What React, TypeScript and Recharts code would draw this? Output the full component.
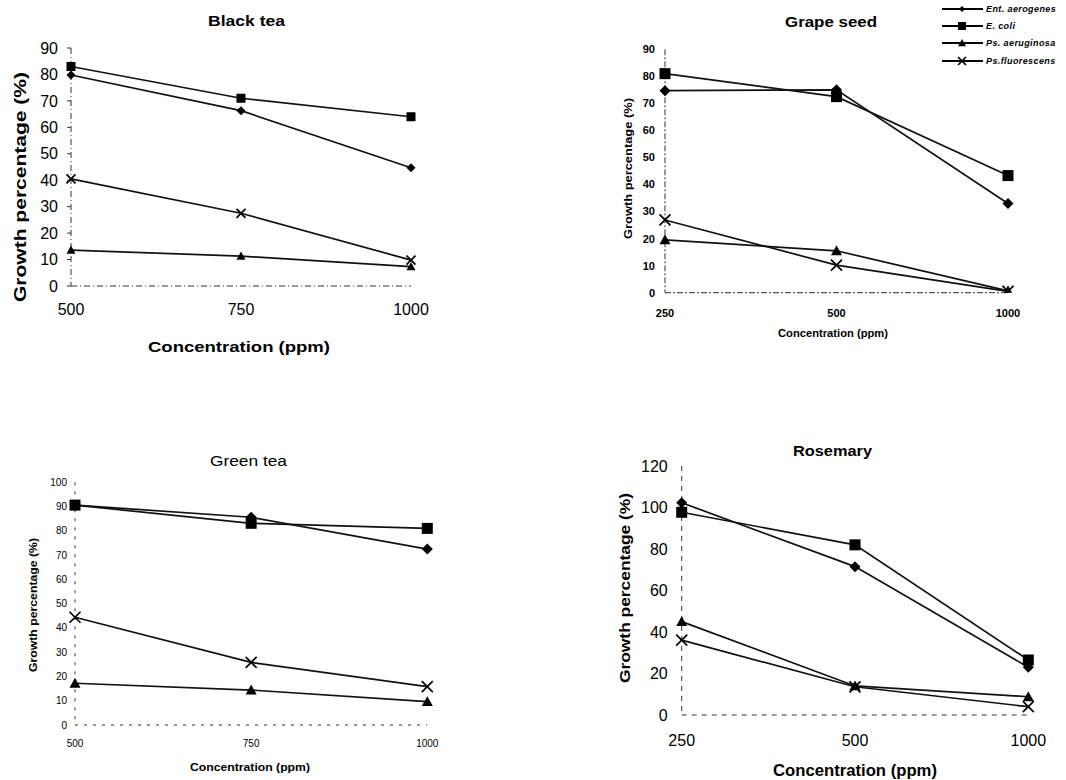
import React from 'react';
import { LineChart, Line, XAxis, YAxis, Legend } from 'recharts';

// ---------- data ----------
const SERIES_NAMES = ['Ent. aerogenes', 'E. coli', 'Ps. aeruginosa', 'Ps.fluorescens'];
const SERIES_KEYS = ['ent', 'coli', 'aer', 'flu'];
const SERIES_SHAPES = ['diamond', 'square', 'triangle', 'cross'];

const blackTeaConc = ['500', '750', '1000'];
const blackTeaEnt = [79.8, 66.3, 44.7];
const blackTeaColi = [83, 71, 64];
const blackTeaAer = [13.6, 11.3, 7.3];
const blackTeaFlu = [40.5, 27.5, 9.8];
const blackTeaTicks = [0, 10, 20, 30, 40, 50, 60, 70, 80, 90];

const grapeConc = ['250', '500', '1000'];
const grapeEnt = [74.7, 75, 33];
const grapeColi = [81, 72.5, 43.3];
const grapeAer = [19.5, 15.5, 0.7];
const grapeFlu = [26.9, 10.2, 0.5];
const grapeTicks = [0, 10, 20, 30, 40, 50, 60, 70, 80, 90];

const greenTeaConc = ['500', '750', '1000'];
const greenTeaEnt = [90.6, 85.6, 72.5];
const greenTeaColi = [90.6, 83.1, 81];
const greenTeaAer = [17.2, 14.4, 9.6];
const greenTeaFlu = [44.4, 25.8, 15.8];
const greenTeaTicks = [0, 10, 20, 30, 40, 50, 60, 70, 80, 90, 100];

const rosemaryConc = ['250', '500', '1000'];
const rosemaryEnt = [102.3, 71.5, 23];
const rosemaryColi = [97.7, 82, 26.5];
const rosemaryAer = [45, 14, 8.8];
const rosemaryFlu = [36.1, 13.6, 4];
const rosemaryTicks = [0, 20, 40, 60, 80, 100, 120];

const Y_LABEL = 'Growth percentage (%)';
const X_LABEL = 'Concentration (ppm)';

function buildRows(conc: string[], ent: number[], coli: number[], aer: number[], flu: number[]) {
  return conc.map((c, i) => ({ conc: c, ent: ent[i], coli: coli[i], aer: aer[i], flu: flu[i] }));
}

const FONT = '"Liberation Sans", Arial, sans-serif';
const W = 1066;
const H = 780;

// ---------- markers ----------
function Marker({ shape, cx, cy, size }: { shape: string; cx: number; cy: number; size: number }) {
  const s = size / 2;
  if (shape === 'diamond') {
    return <polygon points={`${cx},${cy - s} ${cx + s},${cy} ${cx},${cy + s} ${cx - s},${cy}`} fill="#000" />;
  }
  if (shape === 'square') {
    return <rect x={cx - s} y={cy - s} width={size} height={size} fill="#000" />;
  }
  if (shape === 'triangle') {
    return <polygon points={`${cx},${cy - s} ${cx + s},${cy + s * 0.8} ${cx - s},${cy + s * 0.8}`} fill="#000" />;
  }
  return (
    <g stroke="#000" strokeWidth={1.7}>
      <line x1={cx - s} y1={cy - s} x2={cx + s} y2={cy + s} />
      <line x1={cx - s} y1={cy + s} x2={cx + s} y2={cy - s} />
    </g>
  );
}

function makeDot(shape: string, size: number) {
  return (props: any) => {
    const { cx, cy, index } = props;
    if (cx == null || cy == null) return <g key={`d-${shape}-${index}`} />;
    return (
      <g key={`d-${shape}-${index}`}>
        <Marker shape={shape} cx={cx} cy={cy} size={size} />
      </g>
    );
  };
}

// ---------- legend ----------
function LegendContent() {
  return (
    <div style={{ fontFamily: FONT, fontSize: 9, fontStyle: 'italic', fontWeight: 700, color: '#000' }}>
      {SERIES_NAMES.map((name, i) => (
        <div key={name} style={{ display: 'flex', alignItems: 'center', height: 17.4, whiteSpace: 'nowrap' }}>
          <svg width={41} height={10} style={{ display: 'block' }}>
            <line x1={0} y1={5} x2={41} y2={5} stroke="#000" strokeWidth={2} />
            <Marker shape={SERIES_SHAPES[i]} cx={20} cy={5} size={i === 0 ? 6 : 8} />
          </svg>
          <span style={{ marginLeft: 3, letterSpacing: 0.4 }}>{name}</span>
        </div>
      ))}
    </div>
  );
}

// ---------- panel ----------
type PanelProps = {
  rows: any[];
  plot: { x1: number; y1: number; x2: number; y2: number };
  yDomain: [number, number];
  yTicks: number[];
  tickFont: number;
  tickWeight: number | string;
  yTickMargin: number;
  xTickMargin: number;
  markerSize: number;
  yTickLine: boolean;
  axisDash: string;
  legend?: boolean;
};

function Panel(p: PanelProps) {
  const yAxisWidth = 60;
  const xAxisHeight = 40;
  const margin = {
    left: p.plot.x1 - yAxisWidth,
    top: p.plot.y1,
    right: W - p.plot.x2,
    bottom: H - p.plot.y2 - xAxisHeight,
  };
  const tickStyle = { fontFamily: FONT, fontSize: p.tickFont, fontWeight: p.tickWeight as any, fill: '#000' };
  return (
    <div style={{ position: 'absolute', left: 0, top: 0, width: W, height: H }}>
      <LineChart width={W} height={H} data={p.rows} margin={margin}>
        <XAxis
          dataKey="conc"
          type="category"
          scale="point"
          padding={{ left: 0, right: 0 }}
          height={xAxisHeight}
          axisLine={{ stroke: '#333', strokeDasharray: p.axisDash }}
          tickLine={false}
          tickSize={4}
          tickMargin={p.xTickMargin}
          tick={tickStyle}
          interval={0}
        />
        <YAxis
          type="number"
          width={yAxisWidth}
          domain={p.yDomain}
          ticks={p.yTicks}
          allowDataOverflow
          axisLine={{ stroke: '#333', strokeDasharray: p.axisDash }}
          tickLine={p.yTickLine ? { stroke: '#333' } : false}
          tickSize={4}
          tickMargin={p.yTickMargin}
          tick={tickStyle}
          interval={0}
        />
        {SERIES_KEYS.map((k, i) => (
          <Line
            key={k}
            dataKey={k}
            name={SERIES_NAMES[i]}
            type="linear"
            stroke="#111"
            strokeWidth={1.7}
            dot={makeDot(SERIES_SHAPES[i], p.markerSize)}
            activeDot={false}
            isAnimationActive={false}
          />
        ))}
        {p.legend && (
          <Legend
            layout="vertical"
            align="center"
            verticalAlign="middle"
            wrapperStyle={{ left: 942, top: 0, width: 124 }}
            content={() => <LegendContent />}
          />
        )}
      </LineChart>
    </div>
  );
}

// ---------- texts ----------
type TextSpec = { text: string; x: number; y: number; size: number; len: number; weight: number | string; rotate?: boolean };

const TEXTS: TextSpec[] = [
  { text: 'Black tea', x: 246.5, y: 20.5, size: 15, len: 77, weight: 700 },
  { text: Y_LABEL, x: 20, y: 187, size: 17, len: 230, weight: 700, rotate: true },
  { text: X_LABEL, x: 239, y: 346, size: 15, len: 182, weight: 700 },

  { text: 'Grape seed', x: 831, y: 21, size: 15, len: 92, weight: 700 },
  { text: Y_LABEL, x: 628, y: 168.5, size: 10.5, len: 141, weight: 700, rotate: true },
  { text: X_LABEL, x: 833, y: 333, size: 10, len: 110, weight: 700 },

  { text: 'Green tea', x: 248.5, y: 460, size: 15, len: 77, weight: 400 },
  { text: Y_LABEL, x: 33, y: 605, size: 10.5, len: 134, weight: 700, rotate: true },
  { text: X_LABEL, x: 250, y: 767, size: 10.5, len: 120, weight: 700 },

  { text: 'Rosemary', x: 832.5, y: 451, size: 14, len: 79, weight: 700 },
  { text: Y_LABEL, x: 624.5, y: 588, size: 15.5, len: 190, weight: 700, rotate: true },
  { text: X_LABEL, x: 855, y: 770, size: 16, len: 164, weight: 700 },
];

function Texts() {
  return (
    <svg width={W} height={H} style={{ position: 'absolute', left: 0, top: 0, pointerEvents: 'none' }}>
      {TEXTS.map((t, i) => (
        <text
          key={i}
          x={t.x}
          y={t.y}
          textAnchor="middle"
          dominantBaseline="central"
          fontFamily={FONT}
          fontSize={t.size}
          fontWeight={t.weight}
          fill="#000"
          textLength={t.len}
          lengthAdjust="spacingAndGlyphs"
          transform={t.rotate ? `rotate(-90 ${t.x} ${t.y})` : undefined}
        >
          {t.text}
        </text>
      ))}
    </svg>
  );
}

export default function App() {
  const blackRows = buildRows(blackTeaConc, blackTeaEnt, blackTeaColi, blackTeaAer, blackTeaFlu);
  const grapeRows = buildRows(grapeConc, grapeEnt, grapeColi, grapeAer, grapeFlu);
  const greenRows = buildRows(greenTeaConc, greenTeaEnt, greenTeaColi, greenTeaAer, greenTeaFlu);
  const rosemaryRows = buildRows(rosemaryConc, rosemaryEnt, rosemaryColi, rosemaryAer, rosemaryFlu);

  return (
    <div style={{ position: 'absolute', left: 0, top: 0, width: W, height: H, background: '#fff', overflow: 'hidden' }}>
      <Panel
        rows={blackRows}
        plot={{ x1: 71, y1: 48, x2: 411, y2: 286 }}
        yDomain={[0, 90]}
        yTicks={blackTeaTicks}
        tickFont={16}
        tickWeight={400}
        yTickMargin={9}
        xTickMargin={14}
        markerSize={9}
        yTickLine={true}
        axisDash="6 3 1 3"
      />
      <Panel
        rows={grapeRows}
        plot={{ x1: 665, y1: 49.3, x2: 1008, y2: 292.7 }}
        yDomain={[0, 90]}
        yTicks={grapeTicks}
        tickFont={11}
        tickWeight={700}
        yTickMargin={6}
        xTickMargin={12}
        markerSize={11}
        yTickLine={false}
        axisDash="6 2 2 2"
        legend
      />
      <Panel
        rows={greenRows}
        plot={{ x1: 75, y1: 482.3, x2: 427.3, y2: 725 }}
        yDomain={[0, 100]}
        yTicks={greenTeaTicks}
        tickFont={10}
        tickWeight={400}
        yTickMargin={4}
        xTickMargin={11}
        markerSize={11}
        yTickLine={false}
        axisDash="3 6"
      />
      <Panel
        rows={rosemaryRows}
        plot={{ x1: 681.7, y1: 466, x2: 1028.3, y2: 715 }}
        yDomain={[0, 120]}
        yTicks={rosemaryTicks}
        tickFont={16}
        tickWeight={400}
        yTickMargin={10}
        xTickMargin={16}
        markerSize={11}
        yTickLine={false}
        axisDash="5 5"
      />
      <Texts />
    </div>
  );
}
